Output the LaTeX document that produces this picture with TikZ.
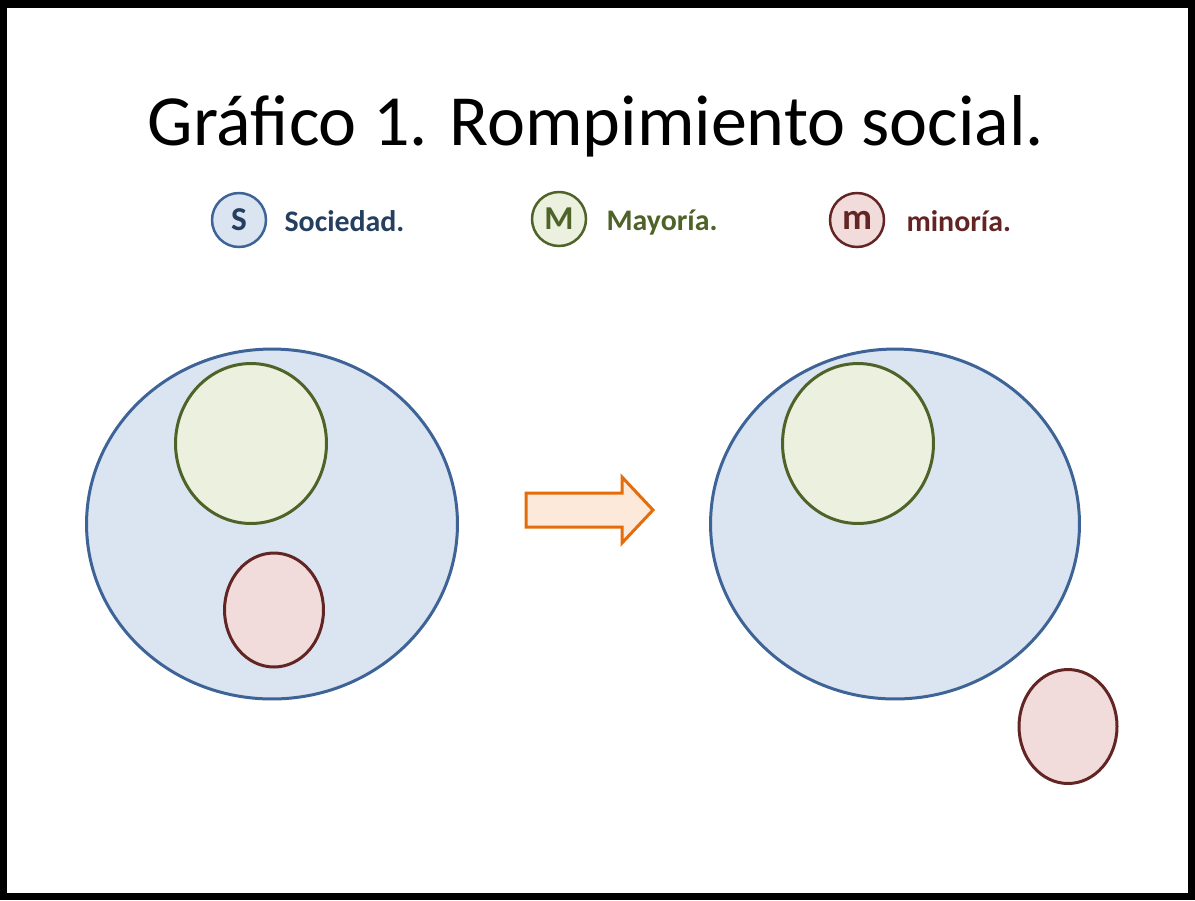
\documentclass[tikz,border=0pt]{standalone}
\usepackage{fontspec}
\setmainfont{Carlito}
\usepackage{xcolor}
\usepackage{tikz}
\usetikzlibrary{shapes,positioning}

\definecolor{socfill}{HTML}{DBE4F1}
\definecolor{socline}{HTML}{3E6497}
\definecolor{soctext}{HTML}{243F60}
\definecolor{mayfill}{HTML}{EBF1DE}
\definecolor{mayline}{HTML}{4F6228}
\definecolor{minfill}{HTML}{F2DCDB}
\definecolor{minline}{HTML}{632523}
\definecolor{arrfill}{HTML}{FDE9D9}
\definecolor{arrline}{HTML}{E46C0A}

\begin{document}
\begin{tikzpicture}[
    x=0.02cm, y=-0.02cm,
    font=\bfseries\fontsize{17}{20}\selectfont,
    node distance=0.3cm,
    % Styles
    society/.style={
        ellipse,
        draw=socline,
        fill=socfill,
        line width=0.06cm,
        inner sep=0pt
    },
    majority/.style={
        ellipse,
        draw=mayline,
        fill=mayfill,
        line width=0.06cm,
        inner sep=0pt
    },
    minority/.style={
        ellipse,
        draw=minline,
        fill=minfill,
        line width=0.06cm,
        inner sep=0pt
    },
    legend/.style={
        circle,
        minimum size=1.08cm,
        inner sep=0pt,
        line width=0.05cm,
        font=\bfseries\fontsize{19}{22}\selectfont
    },
    legendtext/.style={inner sep=0pt, anchor=base west, yshift=-0.22cm},
    % Line Styles
    arrowbox/.style={draw=arrline, fill=arrfill, line width=0.06cm, line join=miter},
    frame/.style={draw=black, line width=0.15cm}
]
\useasboundingbox (0,0) rectangle (1195,900);

% --- Title ---
\node[font=\normalfont\fontsize{41}{48}\selectfont, anchor=base] (title) at (596,145) {Gráfico 1. Rompimiento social.};

% --- Legend ---
\node[legend, draw=socline, fill=socfill, text=soctext] (legS) at (239,220) {S};
\node[right=0.34cm of legS, legendtext, text=soctext] (txtS) {Sociedad.};

\node[legend, draw=mayline, fill=mayfill, text=mayline] (legM) at (559,219) {M};
\node[right=0.38cm of legM, legendtext, text=mayline] (txtM) {Mayoría.};

\node[legend, draw=minline, fill=minfill, text=minline,
      font=\bfseries\fontsize{21}{24}\selectfont] (legm) at (857,220) {m};
\node[right=0.42cm of legm, legendtext, text=minline] (txtm) {minoría.};

% --- Before ---
\node[society, minimum width=7.42cm, minimum height=7cm] (socLeft) at (272,524) {};
\node[majority, minimum width=3.02cm, minimum height=3.2cm] (mayLeft) at (251,443.5) {};
\node[minority, minimum width=1.98cm, minimum height=2.28cm] (minLeft) at (274,610) {};

% --- Arrow ---
\draw[arrowbox] (526,493) -- (622,493) -- (622,477) -- (653,510)
    -- (622,543) -- (622,527) -- (526,527) -- cycle;

% --- After ---
\node[society, minimum width=7.38cm, minimum height=7cm] (socRight) at (895,524) {};
\node[majority, minimum width=3.02cm, minimum height=3.2cm] (mayRight) at (858,443.5) {};
\node[minority, minimum width=1.96cm, minimum height=2.28cm] (minRight) at (1068,726.5) {};

% --- Frame ---
\draw[frame] (3.75,3.75) rectangle (1191.25,896.25);

\end{tikzpicture}
\end{document}
